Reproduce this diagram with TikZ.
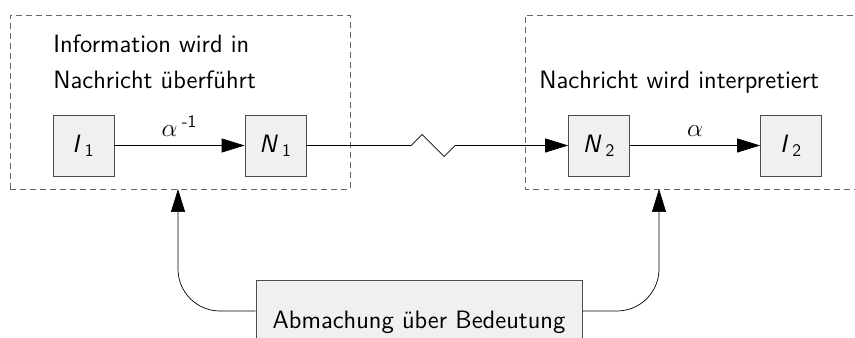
\documentclass[tikz,border=0pt]{standalone}
\usepackage{amsmath}
\usepackage{fontspec}
\usetikzlibrary{arrows.meta,positioning}

\begin{document}
\begin{tikzpicture}[every node/.style={font=\sffamily\fontsize{14.3}{17}\selectfont}]

\tikzset{
  bereich/.style={draw=black!60, dash pattern=on 3.4pt off 2.3pt},
  kasten/.style={draw=black!70, fill=black!6, minimum size=1.22cm, inner sep=0pt},
  beschriftung/.style={anchor=base west, inner sep=0pt},
  pfeil/.style={-{Triangle[length=0.46cm,width=0.28cm]}}
}

\useasboundingbox (0,0) rectangle (17.1,6.76);

% =========================
% SENDER
% =========================
\draw[bereich] (0.2,2.98) rectangle (7.0,6.46);
\coordinate (links) at (3.56,2.98);
\node[beschriftung] (txtl1) at (1.06,5.7) {Information wird in};
\node[beschriftung] (txtl2) at (1.06,4.98) {Nachricht überführt};

\node[kasten] (i1) at (1.67,3.85) {\textsl{I}\,\textsubscript{1}};
\node[kasten] (n1) at (5.51,3.85) {\textsl{N}\,\textsubscript{1}};

\draw[pfeil] (i1) -- node[above=0.06cm] {$\alpha\,^{\textsf{-1}}$} (n1);

% =========================
% EMPFAENGER
% =========================
\draw[bereich] (17.4,2.98) -| (10.5,6.46) -- (17.4,6.46);
\coordinate (rechts) at (13.18,2.98);
\node[beschriftung] (txtr) at (10.78,4.98) {Nachricht wird interpretiert};

\node[kasten] (n2) at (11.98,3.85) {\textsl{N}\,\textsubscript{2}};
\node[kasten] (i2) at (15.82,3.85) {\textsl{I}\,\textsubscript{2}};

\draw[pfeil] (n2) -- node[above=0.06cm] {$\alpha$} (i2);

% Kanal
\draw[pfeil] (n1.east) -- (8.22,3.85) -- (8.44,4.07) -- (8.88,3.63) -- (9.10,3.85) -- (n2.west);

% =========================
% ABMACHUNG
% =========================
\node[kasten, minimum width=6.52cm, minimum height=1.68cm] (abm) at (8.38,0.32) {Abmachung über Bedeutung};

\draw[pfeil, rounded corners=0.84cm] ([yshift=0.22cm]abm.west) -| (links);
\draw[pfeil, rounded corners=0.84cm] ([yshift=0.22cm]abm.east) -| (rechts);

\end{tikzpicture}
\end{document}
